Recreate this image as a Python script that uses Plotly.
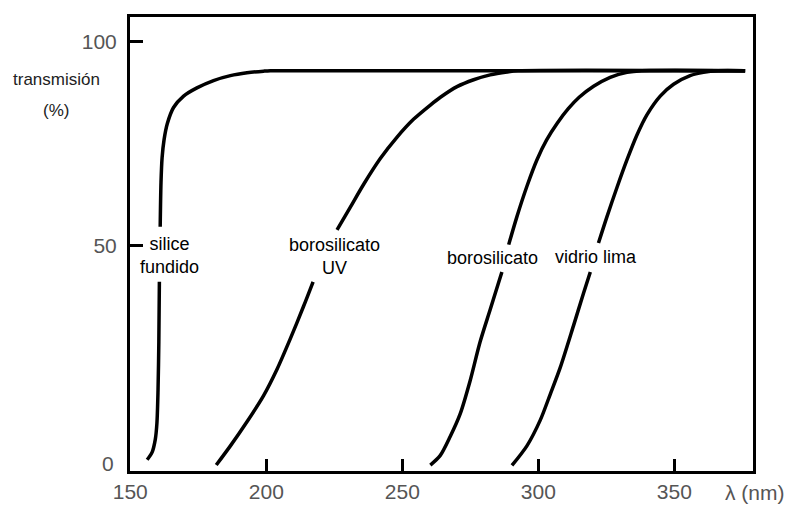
import plotly.graph_objects as go

# ---- data (wavelength nm, transmission %) ----
silice_x = [156.2, 158.0, 159.2, 159.8, 160.2, 160.5, 160.7, None, 161.0, 161.3, 161.7, 162.4,
            163.6, 165.9, 169.6, 174.5, 180.6, 186.8, 192.9, 199.0, 201.5, 376.0]
silice_y = [-2.5, -0.7, 2.5, 6.5, 14.4, 26.4, 41.1, None, 54.6, 65.5, 71.5, 75.8,
            79.8, 83.8, 86.6, 88.6, 90.4, 91.6, 92.3, 92.7, 92.8, 92.8]

borouv_x = [181.6, 186.8, 192.9, 199.0, 203.9, 208.8, 213.7, 217.2, None, 226.0, 230.9, 235.8,
            241.9, 248.0, 254.1, 260.3, 264.0, 270.1, 276.2, 282.3, 288.5, 292.5, 376.0]
borouv_y = [-3.8, 0.9, 6.8, 13.2, 19.6, 27.1, 35.1, 41.1, None, 53.8, 59.4, 65.0,
            71.3, 76.5, 80.9, 84.4, 86.3, 88.9, 90.6, 91.8, 92.5, 92.8, 92.8]

boro_x = [260.3, 263.9, 267.6, 271.3, 274.9, 278.6, 282.3, 286.6, None, 289.1, 292.1, 295.8,
          299.5, 303.0, 307.0, 311.0, 315.0, 320.3, 326.4, 332.6, 338.0, 376.0]
boro_y = [-3.8, -1.5, 3.2, 8.8, 16.8, 26.4, 34.3, 43.5, None, 50.2, 57.0, 64.5,
          71.0, 75.8, 80.0, 83.5, 86.3, 89.0, 91.2, 92.4, 92.8, 92.8]

lima_x = [290.3, 295.8, 300.7, 304.4, 308.0, 312.9, 316.6, 319.1, None, 322.1, 325.2, 328.9,
          332.6, 336.2, 339.9, 344.8, 349.7, 355.8, 360.7, 366.0, 376.0]
lima_y = [-3.9, 0.9, 7.2, 13.6, 20.0, 30.3, 38.3, 43.5, None, 50.6, 57.0, 64.2,
          71.0, 77.0, 82.0, 86.6, 89.5, 91.6, 92.4, 92.8, 92.8]

x_ticks = [150, 200, 250, 300, 350]
y_ticks = [50, 100]
y_ticktext = ["50", "100"]

labels = [
    ("silice<br>fundido", 164.4, 47.6),
    ("borosilicato<br>UV", 225.0, 47.4),
    ("borosilicato", 283.1, 47.0),
    ("vidrio lima", 321.2, 47.1),
]

FONT = "Liberation Sans, Arial, Helvetica, sans-serif"
GREY = "#555555"

fig = go.Figure()
for xs, ys in [(silice_x, silice_y), (borouv_x, borouv_y), (boro_x, boro_y), (lima_x, lima_y)]:
    fig.add_trace(go.Scatter(x=xs, y=ys, mode="lines",
                             line=dict(color="black", width=3.5, shape="spline", smoothing=0.8),
                             connectgaps=False, showlegend=False, hoverinfo="skip"))

for text, lx, ly in labels:
    fig.add_annotation(x=lx, y=ly, xref="x", yref="y", text=text, showarrow=False,
                       font=dict(family=FONT, size=18, color="black"),
                       xanchor="center", yanchor="middle")

# axis-side texts
fig.add_annotation(x=-0.118, y=0.862, xref="paper", yref="paper", text="transmisión",
                   showarrow=False, font=dict(family=FONT, size=17, color="#222"),
                   xanchor="center", yanchor="middle")
fig.add_annotation(x=-0.118, y=0.793, xref="paper", yref="paper", text="(%)",
                   showarrow=False, font=dict(family=FONT, size=17, color="#222"),
                   xanchor="center", yanchor="middle")
fig.add_annotation(x=1.0037, y=-0.0466, xref="paper", yref="paper", text="λ (nm)",
                   showarrow=False, font=dict(family=FONT, size=21, color=GREY),
                   xanchor="center", yanchor="middle")
fig.add_annotation(x=-0.0223, y=0.0157, xref="paper", yref="paper", text="0",
                   showarrow=False, font=dict(family=FONT, size=21, color=GREY),
                   xanchor="right", yanchor="middle")

fig.update_layout(
    width=790, height=515,
    margin=dict(l=130, r=37, t=17, b=33),
    paper_bgcolor="white", plot_bgcolor="white",
    font=dict(family=FONT),
    xaxis=dict(range=[149.9, 378.9], tickvals=x_ticks, ticks="inside", ticklen=12, tickwidth=3,
               tickcolor="black", showline=True, linewidth=3, linecolor="black", mirror=True,
               showgrid=False, zeroline=False, tickfont=dict(family=FONT, size=21, color=GREY)),
    yaxis=dict(range=[-5.26, 105.97], tickvals=y_ticks, ticktext=y_ticktext, ticks="inside",
               ticklen=13, tickwidth=3, tickcolor="black", showline=True, linewidth=3,
               linecolor="black", mirror=True, showgrid=False, zeroline=False,
               tickfont=dict(family=FONT, size=21, color=GREY), ticklabelstandoff=6),
)

fig.write_html("out.html")
